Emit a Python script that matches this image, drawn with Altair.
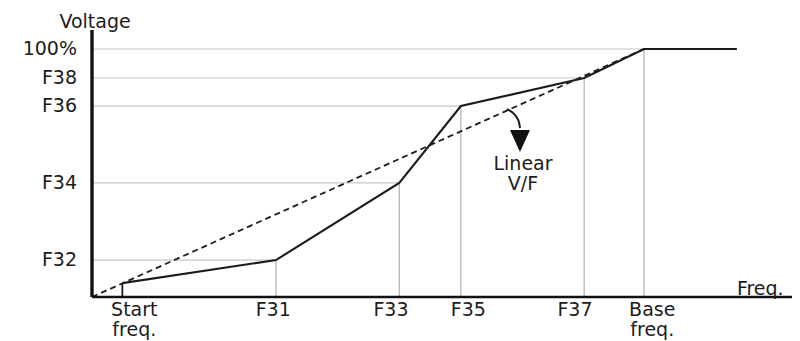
import altair as alt
import pandas as pd

# ---- data ----
freq_names = ["Start\nfreq.", "F31", "F33", "F35", "F37", "Base\nfreq."]
freq_vals = [3.3, 20.0, 33.4, 40.1, 53.5, 60.0]          # frequency (Hz-like units)
curve_volts = [5.6, 14.9, 46.0, 77.0, 88.3, 100.0]        # voltage at each frequency point (%)
volt_names = ["F32", "F34", "F36", "F38", "100%"]
volt_vals = [14.9, 46.0, 77.0, 88.3, 100.0]
volt_grid_end = [20.0, 33.4, 40.1, 53.5, 70.1]            # where each horizontal guide ends
end_freq = 70.1
freq_label_pos = [4.6, 19.7, 32.5, 40.9, 52.5, 60.9]
linear_end = (60.0, 100.0)
x_axis_end = 76.1
y_axis_top = 107.7
arrow_f = [45.11, 45.87, 46.41, 46.52]
arrow_v = [75.8, 74.2, 71.4, 68.1]
arrow_head = (46.52, 63.3)

FONT = "DejaVu Sans"
FS = 19
INK = "#1c1c1c"

xs = alt.Scale(domain=[-9.13, 76.09], nice=False, zero=False)
ys = alt.Scale(domain=[-17.74, 116.53], nice=False, zero=False)

def X(field="f"):
    return alt.X(f"{field}:Q", scale=xs, axis=None)

def Y(field="v"):
    return alt.Y(f"{field}:Q", scale=ys, axis=None)

# horizontal guides
hgrid = pd.DataFrame({"f": [0.0] * len(volt_vals), "f2": volt_grid_end, "v": volt_vals})
hgrid_l = alt.Chart(hgrid).mark_rule(color="#c6c6c6", strokeWidth=1.2).encode(
    x=X(), x2="f2:Q", y=Y())

# vertical guides
vg = pd.DataFrame({"f": freq_vals[1:], "v": [0.0] * 5, "v2": curve_volts[1:]})
vgrid_l = alt.Chart(vg).mark_rule(color="#a8a8a8", strokeWidth=1.1).encode(
    x=X(), y=Y(), y2="v2:Q")

# start freq tick
st = pd.DataFrame({"f": [freq_vals[0]], "v": [0.0], "v2": [curve_volts[0]]})
start_l = alt.Chart(st).mark_rule(color=INK, strokeWidth=1.8).encode(
    x=X(), y=Y(), y2="v2:Q")

# linear V/F dashed
lin = pd.DataFrame({"f": [0.0, linear_end[0]], "v": [0.0, linear_end[1]], "o": [0, 1]})
lin_l = alt.Chart(lin).mark_line(color=INK, strokeWidth=1.8, strokeDash=[6, 4]).encode(
    x=X(), y=Y(), order="o:Q")

# solid V/F curve
cur = pd.DataFrame({"f": freq_vals + [end_freq], "v": curve_volts + [100.0],
                    "o": list(range(len(freq_vals) + 1))})
cur_l = alt.Chart(cur).mark_line(color=INK, strokeWidth=2.1).encode(
    x=X(), y=Y(), order="o:Q")

# axes lines
yax = pd.DataFrame({"f": [0.0], "v": [0.0], "v2": [y_axis_top]})
yax_l = alt.Chart(yax).mark_rule(color="#111111", strokeWidth=3.4).encode(
    x=X(), y=Y(), y2="v2:Q")
xax = pd.DataFrame({"f": [0.0], "f2": [x_axis_end], "v": [0.0]})
xax_l = alt.Chart(xax).mark_rule(color="#111111", strokeWidth=2.6).encode(
    x=X(), x2="f2:Q", y=Y())

# y labels
yl = pd.DataFrame({"f": [-1.63] * len(volt_vals), "v": volt_vals, "t": volt_names})
yl_l = alt.Chart(yl).mark_text(align="right", baseline="middle", font=FONT,
                               fontSize=FS, color=INK).encode(x=X(), y=Y(), text="t:N")

# x labels
xl = pd.DataFrame({"f": freq_label_pos, "v": [-1.61] * len(freq_names), "t": freq_names})
xl_l = alt.Chart(xl).mark_text(align="center", baseline="top", font=FONT, fontSize=FS,
                               lineBreak="\n", lineHeight=20, color=INK).encode(
    x=X(), y=Y(), text="t:N")

# axis titles
tt = pd.DataFrame({"f": [0.33], "v": [110.9], "t": ["Voltage"]})
tt_l = alt.Chart(tt).mark_text(align="center", baseline="middle", font=FONT, fontSize=FS,
                               color=INK).encode(x=X(), y=Y(), text="t:N")
ft = pd.DataFrame({"f": [70.1], "v": [3.2], "t": ["Freq."]})
ft_l = alt.Chart(ft).mark_text(align="left", baseline="middle", font=FONT, fontSize=FS,
                               color=INK).encode(x=X(), y=Y(), text="t:N")

# Linear V/F annotation
la = pd.DataFrame({"f": [46.85], "v": [57.3], "t": ["Linear\nV/F"]})
la_l = alt.Chart(la).mark_text(align="center", baseline="top", font=FONT, fontSize=FS,
                               lineBreak="\n", lineHeight=20, color=INK).encode(
    x=X(), y=Y(), text="t:N")

arr = pd.DataFrame({"f": arrow_f, "v": arrow_v, "o": list(range(len(arrow_f)))})
arr_l = alt.Chart(arr).mark_line(color=INK, strokeWidth=2, interpolate="basis").encode(
    x=X(), y=Y(), order="o:Q")
ah = pd.DataFrame({"f": [arrow_head[0]], "v": [arrow_head[1]]})
ah_l = alt.Chart(ah).mark_point(shape="M-1,-1L1,-1L0,1.2Z", size=400, filled=True,
                                color="#111111", opacity=1).encode(x=X(), y=Y())

chart = alt.layer(
    hgrid_l, vgrid_l, lin_l, cur_l, start_l, yax_l, xax_l,
    yl_l, xl_l, tt_l, ft_l, la_l, arr_l, ah_l
).properties(
    width=784, height=333,
    autosize=alt.AutoSizeParams(type="none"),
    padding=0,
    background="white",
).configure_view(stroke=None)

chart.save("out.html", embed_options={"renderer": "svg", "actions": False})
